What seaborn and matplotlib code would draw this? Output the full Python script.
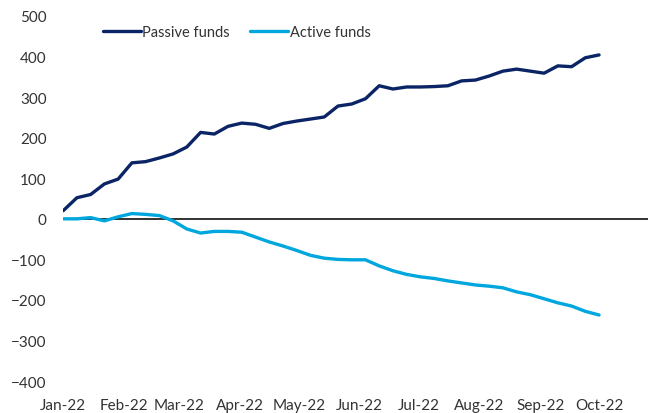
import pandas as pd
import numpy as np
import matplotlib.pyplot as plt
import matplotlib.dates as mdates
import seaborn as sns

# weekly cumulative flows, Jan-22 to Oct-22
weeks = pd.date_range("2022-01-01", periods=40, freq="7D")
passive = [20, 52, 60, 86, 98, 138, 141, 150, 160, 177,
           213, 209, 228, 236, 233, 223, 235, 241, 246, 251,
           278, 283, 296, 328, 320, 325, 325, 326, 328, 340,
           342, 352, 364, 369, 364, 359, 377, 375, 397, 404]
active = [0, 0, 3, -5, 5, 13, 11, 8, -5, -25,
          -35, -31, -31, -33, -45, -57, -67, -78, -90, -97,
          -100, -101, -101, -116, -128, -137, -143, -147, -153, -158,
          -163, -166, -170, -180, -187, -197, -207, -215, -228, -237]
series = ["Passive funds", "Active funds"]
colors = ["#0a2466", "#00a6de"]

df = pd.DataFrame({
    "Date": list(weeks) * 2,
    "Flow": passive + active,
    "Series": [series[0]] * len(weeks) + [series[1]] * len(weeks),
})

sns.set_style("white")
plt.rcParams["font.family"] = ["Lato", "DejaVu Sans"]

fig = plt.figure(figsize=(6.58, 4.14), dpi=100)
ax = fig.add_axes([0.096, 0.077, 0.889, 0.882])

sns.lineplot(data=df, x="Date", y="Flow", hue="Series", hue_order=series,
             palette=colors, linewidth=2.4, ax=ax)
ax.axhline(0, color="#222222", linewidth=1.3, zorder=1)

ax.set_xlim(weeks[0], weeks[0] + pd.Timedelta(days=298))
ax.set_ylim(-400, 500)
ax.set_yticks(range(-400, 501, 100))
ax.xaxis.set_major_locator(mdates.MonthLocator())
ax.xaxis.set_major_formatter(mdates.DateFormatter("%b-%y"))
ax.tick_params(axis="y", length=0, pad=12, labelsize=11, colors="#333333")
ax.tick_params(axis="x", length=0, pad=12, labelsize=11, colors="#333333")
ax.set_xlabel("")
ax.set_ylabel("")
sns.despine(ax=ax, left=True, bottom=True)

leg = ax.legend(loc="center", bbox_to_anchor=(0.297, 0.956), ncol=2, frameon=False,
                fontsize=10.5, handlelength=2.6, handletextpad=0.1, columnspacing=1.4)
for t in leg.get_texts():
    t.set_color("#333333")

fig.savefig("out.png", dpi=100)
